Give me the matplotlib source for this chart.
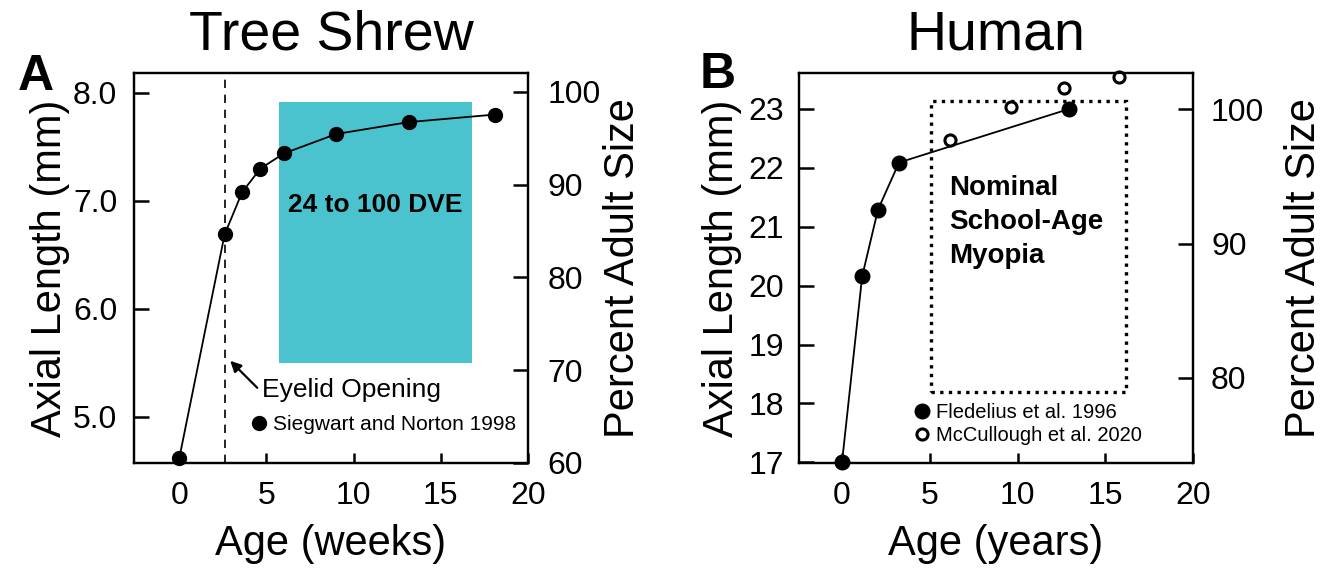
import matplotlib
matplotlib.use("Agg")
import matplotlib.pyplot as plt
from matplotlib.patches import Rectangle
from matplotlib.lines import Line2D

plt.rcParams['font.family'] = ['Liberation Sans', 'DejaVu Sans']

# Tree shrew (Siegwart and Norton 1998)
shrew_age = [0, 2.6, 3.6, 4.65, 6.0, 9.0, 13.15, 18.1]
shrew_len = [4.62, 6.69, 7.08, 7.30, 7.44, 7.62, 7.73, 7.80]
eyelid_week = 2.62
dve_weeks = (5.72, 16.8)
dve_len = (5.50, 7.92)

# Human
fled_age = [0, 1.15, 2.05, 3.25, 12.95]
fled_len = [17.0, 20.16, 21.29, 22.09, 23.0]
mcc_age = [6.15, 9.65, 12.65, 15.8]
mcc_len = [22.48, 23.04, 23.35, 23.55]
myopia_years = (5.05, 16.2)
myopia_len = (18.2, 23.14)

TICK = 23
LABEL = 30

fig = plt.figure(figsize=(13.29, 5.72), dpi=100)
axA = fig.add_axes([0.1008, 0.1906, 0.2965, 0.6818])
axB = fig.add_axes([0.6012, 0.1906, 0.2965, 0.6818])


def style(ax, xpad=13, ypad=12):
    for s in ax.spines.values():
        s.set_linewidth(1.6)
    ax.tick_params(axis='y', direction='in', length=11, width=1.8, labelsize=TICK, pad=ypad)
    ax.tick_params(axis='x', direction='in', length=7, width=1.8, labelsize=TICK, pad=xpad)


# ---- panel A ----
axA.add_patch(Rectangle((dve_weeks[0], dve_len[0]), dve_weeks[1] - dve_weeks[0],
                        dve_len[1] - dve_len[0], color='#4bc3ce', lw=0, zorder=1))
axA.axvline(eyelid_week, color='black', lw=1.2, ls=(0, (5, 4)), zorder=2)
axA.plot(shrew_age, shrew_len, '-o', color='black', lw=1.3, ms=10, zorder=3, clip_on=False)
axA.text(sum(dve_weeks) / 2, 6.96, '24 to 100 DVE', ha='center', va='center',
         fontsize=19, fontweight='bold')
axA.annotate('', xy=(2.92, 5.52), xytext=(4.47, 5.27),
             arrowprops=dict(arrowstyle='-|>', color='black', lw=1.6,
                             mutation_scale=16, shrinkA=0, shrinkB=0))
axA.text(4.75, 5.25, 'Eyelid Opening', fontsize=19, va='center', ha='left')
axA.set_xlim(-2.6, 20)
axA.set_ylim(4.574, 8.185)
axA.set_xticks([0, 5, 10, 15, 20])
axA.set_yticks([5, 6, 7, 8])
axA.set_yticklabels(['5.0', '6.0', '7.0', '8.0'])
axA.set_xlabel('Age (weeks)', fontsize=LABEL, labelpad=9)
axA.set_ylabel('Axial Length (mm)', fontsize=LABEL, labelpad=2)
axA.set_title('Tree Shrew', fontsize=40, pad=17)
style(axA)
axA.legend([Line2D([], [], ls='none', marker='o', color='black', ms=10)],
           ['Siegwart and Norton 1998'], loc='center left',
           bbox_to_anchor=(4.07, 4.93), bbox_transform=axA.transData,
           frameon=False, fontsize=15, handlelength=0.8,
           handletextpad=0.3, borderpad=0, borderaxespad=0)

axA2 = axA.twinx()
axA2.set_ylim(60, 102.05)
axA2.set_yticks([60, 70, 80, 90, 100])
axA2.set_ylabel('Percent Adult Size', fontsize=LABEL, labelpad=2)
style(axA2, ypad=14)

# ---- panel B ----
axB.add_patch(Rectangle((myopia_years[0], myopia_len[0]), myopia_years[1] - myopia_years[0],
                        myopia_len[1] - myopia_len[0], fill=False, edgecolor='black',
                        lw=2.4, ls=(0, (1, 1.6)), zorder=1))
axB.plot(fled_age, fled_len, '-o', color='black', lw=1.3, ms=10.5, zorder=3, clip_on=False)
axB.plot(mcc_age, mcc_len, 'o', mfc='white', mec='black', mew=2.2, ms=8, zorder=4,
         clip_on=False)
axB.text(6.1, 21.08, 'Nominal\nSchool-Age\nMyopia', ha='left', va='center',
         fontsize=20, fontweight='bold', linespacing=1.38)
axB.set_xlim(-2.45, 20)
axB.set_ylim(16.99, 23.61)
axB.set_xticks([0, 5, 10, 15, 20])
axB.set_yticks([17, 18, 19, 20, 21, 22, 23])
axB.set_xlabel('Age (years)', fontsize=LABEL, labelpad=9)
axB.set_ylabel('Axial Length (mm)', fontsize=LABEL, labelpad=4)
axB.set_title('Human', fontsize=40, pad=17)
style(axB, ypad=11)
axB.legend([Line2D([], [], ls='none', marker='o', color='black', ms=10.5),
            Line2D([], [], ls='none', marker='o', mfc='white', mec='black', mew=2.2, ms=8)],
           ['Fledelius et al. 1996', 'McCullough et al. 2020'], loc='center left',
           bbox_to_anchor=(4.08, 17.65), bbox_transform=axB.transData,
           frameon=False, fontsize=14.5, handlelength=0.8, handletextpad=0.3,
           borderpad=0, borderaxespad=0, labelspacing=0.18)

axB2 = axB.twinx()
axB2.set_ylim(73.68, 102.68)
axB2.set_yticks([80, 90, 100])
axB2.set_ylabel('Percent Adult Size', fontsize=LABEL, labelpad=14)
style(axB2, ypad=13)

fig.text(18 / 1329, 1 - 90 / 572, 'A', fontsize=36, fontweight='bold')
fig.text(700 / 1329, 1 - 88 / 572, 'B', fontsize=36, fontweight='bold')

fig.savefig('out.png', dpi=100)
